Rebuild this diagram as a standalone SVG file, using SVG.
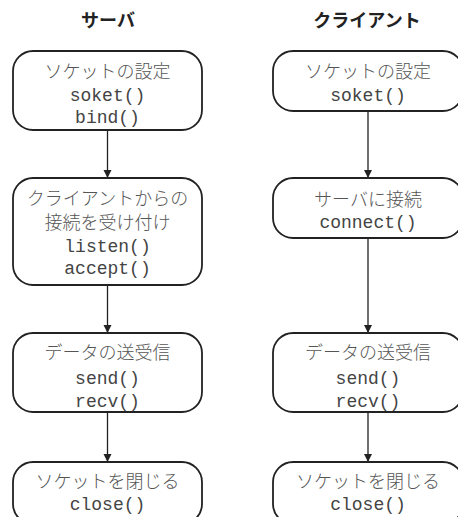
<svg xmlns="http://www.w3.org/2000/svg" width="458" height="517" viewBox="0 0 458 517">
<defs>
<style>
.box{fill:#fff;stroke:#222;stroke-width:1.8}
.jp{font-family:"Noto Sans CJK JP","Noto Sans",sans-serif;font-size:18px;font-weight:300;fill:#555;text-anchor:middle}
.mono{font-family:"Liberation Mono","DejaVu Sans Mono",monospace;font-size:18px;fill:#444;text-anchor:middle}
.title{font-family:"Noto Sans CJK JP","Noto Sans",sans-serif;font-size:18px;font-weight:bold;fill:#222;text-anchor:middle}
.edge{stroke:#222;stroke-width:1.3;fill:none;marker-end:url(#arr)}
</style>
<marker id="arr" viewBox="0 0 8 12" refX="8" refY="6" markerWidth="8" markerHeight="12" markerUnits="userSpaceOnUse" orient="auto">
<path d="M0,2 L8,6 L0,10 Z" fill="#222"/>
</marker>
</defs>
<rect width="458" height="517" fill="#fff"/>
<g id="titles">
<text class="title" x="108" y="27">サーバ</text>
<text class="title" x="367" y="27">クライアント</text>
</g>
<g id="connectors">
<line class="edge" x1="107.5" y1="130" x2="107.5" y2="178"/>
<line class="edge" x1="107.5" y1="285" x2="107.5" y2="333"/>
<line class="edge" x1="107.5" y1="412" x2="107.5" y2="462"/>
<line class="edge" x1="368" y1="111" x2="368" y2="178"/>
<line class="edge" x1="368" y1="238" x2="368" y2="333"/>
<line class="edge" x1="368" y1="412" x2="368" y2="462"/>
</g>
<g id="s1">
<rect class="box" x="13" y="51" width="189" height="79" rx="20"/>
<text class="jp" x="107.5" y="78">ソケットの設定</text>
<text class="mono" x="107.5" y="101">soket()</text>
<text class="mono" x="107.5" y="123">bind()</text>
</g>
<g id="s2">
<rect class="box" x="13" y="178" width="189" height="107" rx="20"/>
<text class="jp" x="107.5" y="205">クライアントからの</text>
<text class="jp" x="107.5" y="229">接続を受け付け</text>
<text class="mono" x="107.5" y="252">listen()</text>
<text class="mono" x="107.5" y="274">accept()</text>
</g>
<g id="s3">
<rect class="box" x="13" y="333" width="189" height="79" rx="20"/>
<text class="jp" x="107.5" y="359">データの送受信</text>
<text class="mono" x="107.5" y="384">send()</text>
<text class="mono" x="107.5" y="407">recv()</text>
</g>
<g id="s4">
<rect class="box" x="13" y="462" width="189" height="62" rx="20"/>
<text class="jp" x="107.5" y="488">ソケットを閉じる</text>
<text class="mono" x="107.5" y="510">close()</text>
</g>
<g id="c1">
<rect class="box" x="273" y="51" width="190" height="60" rx="20"/>
<text class="jp" x="368" y="78">ソケットの設定</text>
<text class="mono" x="368" y="101">soket()</text>
</g>
<g id="c2">
<rect class="box" x="273" y="178" width="190" height="60" rx="20"/>
<text class="jp" x="368" y="206">サーバに接続</text>
<text class="mono" x="368" y="228">connect()</text>
</g>
<g id="c3">
<rect class="box" x="273" y="333" width="190" height="79" rx="20"/>
<text class="jp" x="368" y="359">データの送受信</text>
<text class="mono" x="368" y="384">send()</text>
<text class="mono" x="368" y="407">recv()</text>
</g>
<g id="c4">
<rect class="box" x="273" y="462" width="190" height="62" rx="20"/>
<text class="jp" x="368" y="488">ソケットを閉じる</text>
<text class="mono" x="368" y="510">close()</text>
</g>
</svg>
